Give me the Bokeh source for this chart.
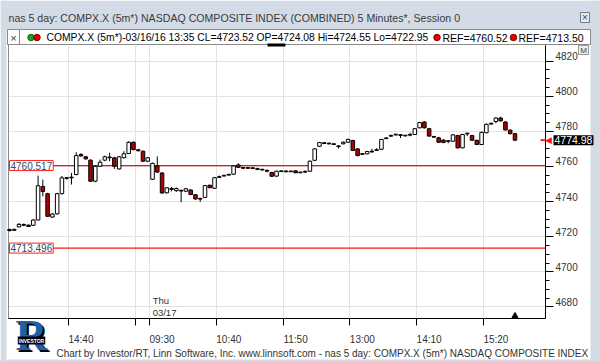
from bokeh.plotting import figure
from bokeh.models import (Range1d, LinearAxis, FixedTicker, Label,
                          BoxAnnotation, ColumnDataSource)
from bokeh.embed import file_html
from bokeh.resources import INLINE

# ---------------- data ----------------
symbol = "COMPX.X (5m*)"
first_stamp = "03/16/16 13:35"
opens = [4724.08, 4723.6, 4725.6, 4726.9, 4726.6, 4726.5, 4729.5, 4748.6, 4744.5, 4731.2,
         4733.0, 4744.5, 4753.2, 4753.5, 4755.4, 4766.8, 4765.5, 4763.6, 4751.6, 4760.1,
         4763.6, 4765.0, 4764.9, 4758.6, 4765.0, 4767.4, 4773.8, 4769.5, 4768.7, 4763.0,
         4752.7, 4760.3, 4756.3, 4745.0, 4747.4, 4746.2, 4746.4, 4745.9, 4746.6, 4743.9,
         4741.5, 4742.4, 4749.3, 4747.6, 4753.8, 4754.6, 4755.2, 4755.6, 4760.9, 4759.3,
         4759.0, 4759.2, 4758.7, 4758.3, 4757.8, 4756.6, 4754.5, 4757.2, 4757.3, 4757.1,
         4757.5, 4756.5, 4756.8, 4757.3, 4763.5, 4771.5, 4773.4, 4773.2, 4772.8, 4771.6,
         4772.9, 4773.8, 4774.8, 4770.0, 4767.0, 4767.2, 4768.6, 4769.2, 4769.8, 4775.9,
         4777.3, 4778.0, 4778.0, 4777.5, 4777.9, 4778.2, 4782.0, 4785.3, 4781.5, 4777.0,
         4776.3, 4775.0, 4774.4, 4774.4, 4777.6, 4770.6, 4778.6, 4777.6, 4774.9, 4772.5,
         4779.2, 4784.2, 4785.6, 4787.6, 4785.3, 4780.7, 4778.7]
highs = [4724.55, 4724.6, 4727.8, 4727.5, 4726.8, 4730.0, 4754.8, 4752.5, 4745.0, 4733.4,
         4745.0, 4754.6, 4754.0, 4756.3, 4768.1, 4767.6, 4766.0, 4764.0, 4760.6, 4763.9,
         4766.2, 4767.8, 4765.5, 4766.0, 4768.7, 4774.3, 4774.2, 4770.0, 4769.0, 4765.5,
         4762.2, 4765.8, 4756.8, 4748.2, 4748.4, 4748.0, 4746.8, 4747.8, 4747.0, 4744.2,
         4742.2, 4749.5, 4749.6, 4754.0, 4754.8, 4755.3, 4755.8, 4760.6, 4761.8, 4759.8,
         4759.7, 4759.4, 4759.3, 4758.6, 4758.2, 4756.9, 4757.6, 4757.7, 4757.9, 4757.6,
         4757.7, 4757.0, 4757.8, 4763.3, 4770.4, 4774.0, 4773.9, 4773.6, 4773.2, 4772.1,
         4774.2, 4775.8, 4775.2, 4770.3, 4767.6, 4768.9, 4770.0, 4770.4, 4775.7, 4776.7,
         4778.2, 4778.7, 4778.3, 4778.0, 4779.2, 4781.9, 4785.4, 4785.8, 4781.8, 4777.3,
         4776.9, 4775.6, 4775.0, 4778.4, 4778.0, 4778.6, 4779.2, 4778.0, 4775.2, 4779.9,
         4784.5, 4785.1, 4788.0, 4788.3, 4785.8, 4781.0, 4779.0]
lows = [4722.95, 4723.3, 4725.3, 4726.0, 4725.6, 4726.2, 4729.3, 4743.0, 4731.2, 4730.8,
        4732.6, 4744.0, 4752.5, 4749.7, 4755.0, 4765.6, 4764.0, 4751.2, 4751.0, 4759.8,
        4763.0, 4763.0, 4758.6, 4758.2, 4764.5, 4767.0, 4769.2, 4768.5, 4762.6, 4762.5,
        4752.3, 4756.3, 4744.5, 4744.6, 4745.8, 4745.6, 4739.6, 4745.5, 4743.7, 4741.0,
        4739.8, 4742.0, 4747.6, 4747.3, 4753.4, 4754.3, 4754.8, 4755.3, 4759.3, 4758.4,
        4758.6, 4758.6, 4757.9, 4757.7, 4756.7, 4754.2, 4754.2, 4756.9, 4756.6, 4756.9,
        4756.2, 4756.3, 4756.2, 4757.0, 4763.2, 4771.2, 4772.8, 4772.6, 4772.4, 4770.3,
        4772.6, 4773.5, 4768.8, 4765.8, 4766.6, 4766.9, 4768.0, 4768.9, 4769.5, 4775.6,
        4776.8, 4777.7, 4776.2, 4777.2, 4777.2, 4778.0, 4781.8, 4781.7, 4777.0, 4776.3,
        4773.5, 4773.3, 4773.2, 4774.0, 4770.2, 4770.3, 4777.3, 4774.6, 4772.2, 4772.2,
        4779.0, 4783.8, 4784.6, 4785.6, 4780.5, 4778.2, 4774.6]
closes = [4723.52, 4724.2, 4727.0, 4726.6, 4725.8, 4729.5, 4749.0, 4745.8, 4731.6, 4732.9,
          4744.5, 4753.5, 4753.6, 4753.9, 4766.2, 4766.0, 4764.3, 4751.6, 4760.1, 4762.4,
          4765.5, 4765.3, 4760.1, 4765.5, 4767.2, 4773.8, 4769.6, 4769.0, 4763.0, 4764.9,
          4761.8, 4756.8, 4744.9, 4747.8, 4747.0, 4747.4, 4746.0, 4747.3, 4744.0, 4741.5,
          4741.7, 4749.1, 4747.9, 4753.6, 4754.2, 4754.9, 4755.4, 4760.3, 4759.5, 4759.1,
          4759.3, 4758.9, 4758.4, 4758.1, 4757.3, 4754.4, 4757.3, 4757.4, 4757.1, 4757.3,
          4756.4, 4756.7, 4757.2, 4763.0, 4770.0, 4773.6, 4773.2, 4772.9, 4772.6, 4771.4,
          4773.8, 4775.4, 4769.1, 4766.2, 4767.2, 4768.5, 4768.3, 4769.5, 4775.4, 4776.2,
          4777.6, 4778.3, 4777.8, 4777.7, 4778.1, 4781.5, 4785.0, 4782.0, 4777.3, 4776.8,
          4773.8, 4773.6, 4774.6, 4778.0, 4770.6, 4778.2, 4778.9, 4774.9, 4772.5, 4779.4,
          4784.0, 4784.5, 4787.6, 4786.0, 4780.8, 4778.7, 4774.98]
ref_levels = [4760.517, 4713.496]
price_ticks = [4680, 4700, 4720, 4740, 4760, 4780, 4800, 4820]
time_labels = ["14:40", "", "09:30", "10:40", "11:50", "13:00", "14:10", "15:20"]
time_label_bars = [13, 27, 30, 44, 58, 72, 86, 100]
session_label = ["Thu", "03/17"]
session_start_bar = 30
title_text = "nas 5 day: COMPX.X (5m*) NASDAQ COMPOSITE INDEX (COMBINED) 5 Minutes*, Session 0"
footer_text = ("Chart by Investor/RT, Linn Software, Inc. www.linnsoft.com - "
               "nas 5 day: COMPX.X (5m*) NASDAQ COMPOSITE INDEX")

# ---------------- geometry / style ----------------
W, H = 600, 361
FL, FR, FT, FB = 8, 545, 45, 318          # price-chart area inside the window
X0, X1 = -0.2, 112.4                       # bar range of the chart area
Y0, Y1 = 4673.4, 4828.9                    # price range of the chart area
KX = (FR - FL) / (X1 - X0)
KY = (FB - FT) / (Y1 - Y0)
BG = "#D3DCE6"
UP_FILL, DN_FILL = "white", "#B00000"
FONT = "Liberation Sans"
TXT = "#333333"

AW = {" ": 278, ":": 278, ".": 278, ",": 278, "/": 278, "(": 333, ")": 333,
      "*": 389, "-": 333, "=": 584,
      "A": 667, "B": 667, "C": 722, "D": 722, "E": 667, "F": 611, "G": 778, "H": 722,
      "I": 278, "J": 500, "K": 667, "L": 556, "M": 833, "N": 722, "O": 778, "P": 667,
      "Q": 778, "R": 722, "S": 667, "T": 611, "U": 722, "V": 667, "W": 944, "X": 667,
      "Y": 667, "Z": 611, "a": 556, "b": 556, "c": 500, "d": 556, "e": 556, "f": 278,
      "g": 556, "h": 556, "i": 222, "j": 222, "k": 500, "l": 222, "m": 833, "n": 556,
      "o": 556, "p": 556, "q": 556, "r": 333, "s": 500, "t": 278, "u": 556, "v": 500,
      "w": 722, "x": 500, "y": 500, "z": 500}


def tw(s, size):
    return sum(AW.get(ch, 556) for ch in s) * size / 1000.0


def dx(px):
    return X0 + (px - FL) / KX


def dy(py):
    return Y1 - (py - FT) / KY


# the frame covers the whole window; axes are pinned at the chart edges
p = figure(width=W, height=H, x_range=Range1d(dx(0), dx(W)), y_range=Range1d(dy(H), dy(0)),
           output_backend="svg", toolbar_location=None, min_border=0,
           x_axis_location="below", y_axis_location="right",
           border_fill_color="white", background_fill_color="white",
           outline_line_color=None)
p.title.visible = False


def box(x0, x1, y0, y1, fill="white", line=None, level="underlay", lw=1):
    b = BoxAnnotation(left=dx(x0), right=dx(x1), top=dy(y0), bottom=dy(y1),
                      fill_color=fill, fill_alpha=1.0 if fill else 0.0,
                      line_color=line, line_alpha=1.0 if line else 0.0,
                      line_width=lw, level=level)
    p.add_layout(b)
    return b


def txt(X, Y, s, size="10.5px", color=TXT, font=FONT, align="left",
        baseline="middle", style="normal", **kw):
    lab = Label(x=dx(X), y=dy(Y), text=s, text_font=font, text_font_size=size,
                text_color=color, text_align=align, text_baseline=baseline,
                text_font_style=style, **kw)
    p.add_layout(lab)
    return lab


# ---------------- grid + window panels ----------------
for g in (p.xgrid[0], p.ygrid[0]):
    g.grid_line_color = "#E2E2E2"
    g.grid_line_width = 1

# masks so that grid lines only show inside the chart area
box(0, W, 0, FT)
box(FR, W, 0, H)
box(0, W, FB, H)
box(0, FL, 0, H)
# window chrome
box(0, W, 0, 29, fill=BG)
box(0, 6, 0, H, fill=BG)
box(590, W, 0, H, fill=BG)
box(0, W, 359, H, fill=BG)
box(7, 590, 29, 44, fill="white", line="#8A8A8A")
box(7, 19, 29, 44, fill=None, line="#8A8A8A")
box(FL, FR, FT - 1, FB, fill=None, line="#8A8A8A")
box(580, 589, 12, 22, fill="#E6ECF2", line="#7A7A7A")
box(578, 588, 45, 54, fill="#EEEEEE", line="#9A9A9A")

# ---------------- axes (pinned to the chart edges) ----------------
tick_pos = [round(b - 0.6, 2) for b in time_label_bars]
xa = p.xaxis[0]
xa.fixed_location = Y0
xa.bounds = (X0, X1)
xa.ticker = FixedTicker(ticks=tick_pos, minor_ticks=[])
xa.major_label_overrides = {t: "" for t in tick_pos}
xa.major_label_text_font_size = "1px"
xa.major_label_standoff = 0
xa.major_tick_out = 7
xa.major_tick_in = 0
xa.axis_line_color = "black"
xa.major_tick_line_color = "black"

lab_shift = 2.6
xl_pos = [round(t + lab_shift, 2) for t, s in zip(tick_pos, time_labels) if s]
xl_txt = [s for s in time_labels if s]
xb = LinearAxis(ticker=FixedTicker(ticks=xl_pos, minor_ticks=[]), fixed_location=Y0,
                major_label_overrides=dict(zip(xl_pos, xl_txt)),
                axis_line_color=None, major_tick_line_color=None,
                minor_tick_line_color=None, major_tick_out=0, major_tick_in=0,
                major_label_standoff=15, major_label_text_font=FONT,
                major_label_text_font_size="10px", major_label_text_color=TXT)
p.add_layout(xb, "below")

minor = [v for v in range(price_ticks[0], price_ticks[-1] + 1, 5) if v not in price_ticks]
ya = p.yaxis[0]
ya.fixed_location = X1
ya.bounds = (Y0, Y1)
ya.ticker = FixedTicker(ticks=price_ticks, minor_ticks=minor)
ya.major_label_overrides = {t: "" for t in price_ticks}
ya.major_label_text_font_size = "1px"
ya.major_label_standoff = 0
ya.major_tick_out = 8
ya.major_tick_in = 0
ya.minor_tick_out = 4
ya.minor_tick_in = 0
ya.axis_line_color = "black"
ya.major_tick_line_color = "black"
ya.minor_tick_line_color = "black"

lift = 2.85
yl_pos = [round(t + lift, 2) for t in price_ticks]
yb = LinearAxis(ticker=FixedTicker(ticks=yl_pos, minor_ticks=[]), fixed_location=X1,
                major_label_overrides={v: str(t) for v, t in zip(yl_pos, price_ticks)},
                axis_line_color=None, major_tick_line_color=None,
                minor_tick_line_color=None, major_tick_out=0, major_tick_in=0,
                major_label_standoff=10, major_label_text_font=FONT,
                major_label_text_font_size="10px", major_label_text_color=TXT)
p.add_layout(yb, "right")

# ---------------- candles ----------------
xs = list(range(len(opens)))
tops, bots, fills = [], [], []
for o, c in zip(opens, closes):
    t, b = max(o, c), min(o, c)
    if t - b < 0.4:
        m = (t + b) / 2
        t, b = m + 0.2, m - 0.2
    tops.append(t)
    bots.append(b)
    fills.append(UP_FILL if c >= o else DN_FILL)
src = ColumnDataSource(dict(x=xs, high=highs, low=lows, top=tops, bottom=bots, fill=fills))

# reference lines across the chart area
p.segment(x0=[X0] * len(ref_levels), x1=[X1] * len(ref_levels), y0=ref_levels,
          y1=ref_levels, line_color="#FF1010", line_width=1.2)

p.segment(x0="x", y0="low", x1="x", y1="high", source=src, line_color="black", line_width=1)
p.vbar(x="x", width=0.74, top="top", bottom="bottom", fill_color="fill",
       line_color="black", line_width=1, source=src)

for r in ref_levels:
    lb = txt(9, 0, f"{r:.3f}", size="10px", color="#34495E", background_fill_color="white",
             border_line_color="#FF2020", border_line_width=1, padding=1)
    lb.y = r

# last bar marker on the time axis
p.scatter(x=[xs[-1]], y=[Y0 + 2.6 / KY], marker="triangle", size=6,
          fill_color="black", line_color="black")

# session day label
for k, s in enumerate(session_label):
    lb = txt(0, 300 + 12 * k, s, size="9.5px")
    lb.x = session_start_bar - 0.6
    lb.x_offset = 3

# scroll mark
box(267, 285, 43, 46, fill="black", level="annotation")

# current price marker
last = closes[-1]
dash = box(540, 545, 0, 0, fill="#FF1010", level="annotation")
dash.top = last + 0.45
dash.bottom = last - 0.45
pm = txt(544.5, 0, "\u25C0", size="9px", color="#FF1010", font="DejaVu Sans")
pm.y = last
pv = txt(553, 0, f"{last:.2f}", size="10.5px", color="white",
         background_fill_color="black", padding=1)
pv.y = last
txt(583, 49.5, "M", size="8px", align="center", color="#444444")

# ---------------- title, legend, footer ----------------
txt(8, 17, title_text, size="10.6px", color="#3A3A3A")
txt(584.5, 17, "\u00D7", size="10px", align="center", color="#444444")
txt(13, 37, "\u00D7", size="11px", align="center", color="#444444")
p.scatter(x=[dx(30.5), dx(36.5), dx(436.5), dx(513)], y=[dy(37)] * 4, size=6.5,
          fill_color=["#1E9E1E", "#E00000", "#E00000", "#E00000"],
          line_color=["#0E6E0E", "#900000", "#900000", "#900000"])
legend = (f"{symbol}-{first_stamp} CL={closes[0]:.2f} OP={opens[0]:.2f} "
          f"Hi={highs[0]:.2f} Lo={lows[0]:.2f}")
lsize = round(min(10.5, (428 - 46) / tw(legend, 1.0)), 2)
txt(46, 37, legend, size=f"{lsize}px", color="black")
txt(442, 37, f"REF={ref_levels[0]:.2f}", size="10.5px", color="black")
txt(518, 37, f"REF={ref_levels[1]:.2f}", size="10.5px", color="black")

# logo
txt(17, 361, "R", size="44px", color="black", font="Liberation Serif", style="bold",
    baseline="bottom")
txt(15, 359, "R", size="44px", color="#1F5FA8", font="Liberation Serif", style="bold",
    baseline="bottom")
txt(31, 340, "INVESTOR", size="5px", align="center", color="white", style="bold",
    background_fill_color="black", padding=1)

# footer (shrunk just enough to stay inside the window)
fsize = min(10.0, round((W - 2 - 56) / (tw(footer_text, 1.0)), 2))
txt(56, 353, footer_text, size=f"{fsize}px", color="#333333")

open("out.html", "w").write(file_html(p, INLINE))
